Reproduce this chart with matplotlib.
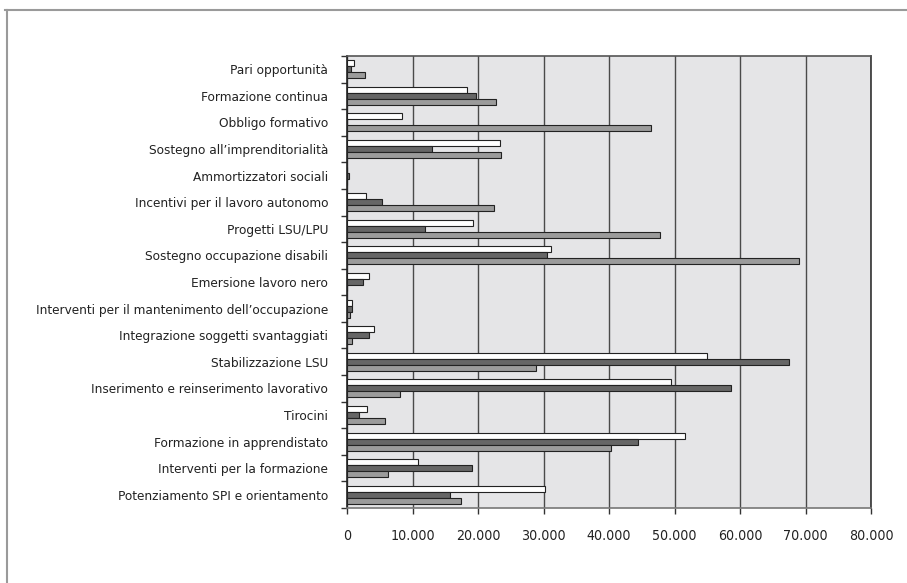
import matplotlib
matplotlib.use("Agg")
import matplotlib.pyplot as plt
from matplotlib.lines import Line2D
from matplotlib.ticker import FuncFormatter
from matplotlib import font_manager
import numpy as np

# Categories listed top to bottom
categories = [
    "Pari opportunità",
    "Formazione continua",
    "Obbligo formativo",
    "Sostegno all’imprenditorialità",
    "Ammortizzatori sociali",
    "Incentivi per il lavoro autonomo",
    "Progetti LSU/LPU",
    "Sostegno occupazione disabili",
    "Emersione lavoro nero",
    "Interventi per il mantenimento dell’occupazione",
    "Integrazione soggetti svantaggiati",
    "Stabilizzazione LSU",
    "Inserimento e reinserimento lavorativo",
    "Tirocini",
    "Formazione in apprendistato",
    "Interventi per la formazione",
    "Potenziamento SPI e orientamento",
]

series_white = [1100, 18300, 8450, 23300, 0, 2850, 19300, 31150, 3350, 800,
                4050, 55000, 49400, 3050, 51600, 10800, 30200]
series_dark = [650, 19750, 0, 12950, 300, 5400, 11950, 30500, 2500, 800,
               3400, 67500, 58600, 1800, 44400, 19050, 15700]
series_light = [2700, 22700, 46400, 23550, 0, 22450, 47750, 69000, 0, 450,
                700, 28800, 8150, 5800, 40300, 6300, 17350]

x_ticks = [0, 10000, 20000, 30000, 40000, 50000, 60000, 70000, 80000]

# prefer a narrow/condensed face if one is installed
narrow = [f for f in font_manager.fontManager.ttflist
          if ("Condensed" in f.fname or "Narrow" in f.fname)
          and "Bold" not in f.fname and "Oblique" not in f.fname and "Italic" not in f.fname]
if narrow:
    fp = font_manager.FontProperties(fname=narrow[0].fname)
    ylab_size, xlab_size = 9.7, 10.2
else:
    fp = font_manager.FontProperties(family="DejaVu Sans")
    ylab_size, xlab_size = 8.8, 9.5

fig = plt.figure(figsize=(9.07, 5.83), dpi=100)
fig.patch.set_facecolor("white")

ax = fig.add_axes([347 / 907, 1 - 508 / 583, (871 - 347) / 907, (508 - 56) / 583])
ax.set_facecolor("#e5e5e7")

n = len(categories)
pos = np.arange(n)[::-1].astype(float)  # first category at the top
h = 0.225
colors = ["#ffffff", "#666666", "#9b9b9b"]
for off, vals, c in zip((-h, 0.0, h), (series_white, series_dark, series_light), colors):
    ax.barh(pos - off, vals, height=h, color=c, edgecolor="#222222",
            linewidth=0.8, zorder=3)

ax.set_xlim(0, 80000)
ax.set_ylim(-0.5, n - 0.5)
ax.set_xticks(x_ticks)
ax.xaxis.set_major_formatter(FuncFormatter(lambda v, p: f"{int(v):,}".replace(",", ".")))
ax.grid(axis="x", color="#4a4a4a", linewidth=1.0, zorder=1)

# category labels centred on groups, ticks on the group boundaries
ax.set_yticks(pos)
ax.set_yticklabels(categories)
ax.set_yticks(np.arange(-0.5, n, 1.0), minor=True)
ax.tick_params(axis="y", which="major", length=0, pad=13.5)
ax.tick_params(axis="y", which="minor", length=4, width=1, color="#333333")
ax.tick_params(axis="x", length=4, width=1, color="#333333", pad=11)
for lab in ax.get_yticklabels():
    lab.set_fontproperties(fp)
    lab.set_fontsize(ylab_size)
    lab.set_color("#222222")
for lab in ax.get_xticklabels():
    lab.set_fontproperties(fp)
    lab.set_fontsize(xlab_size)
    lab.set_color("#222222")

for side, col, lw in (("left", "#222222", 1.2), ("bottom", "#777777", 1.2),
                      ("top", "#555555", 1.2), ("right", "#333333", 1.2)):
    ax.spines[side].set_color(col)
    ax.spines[side].set_linewidth(lw)

# panel frame along the top and left edges
W, H = 907, 583
fig.add_artist(Line2D([5 / W, 1], [1 - 10 / H, 1 - 10 / H], color="#9a9a9a", linewidth=1.5))
fig.add_artist(Line2D([7 / W, 7 / W], [0, 1 - 10 / H], color="#9a9a9a", linewidth=1.5))

fig.savefig("out.png", dpi=100)
